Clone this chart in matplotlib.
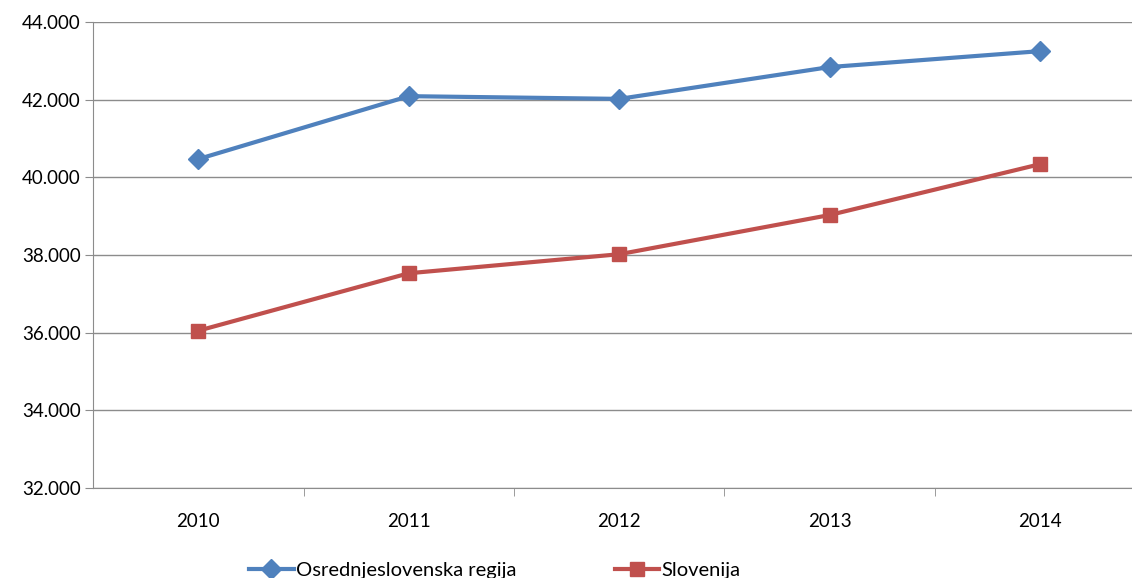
import matplotlib.pyplot as plt
import numpy as np

plt.rcParams['font.family'] = ['Lato', 'DejaVu Sans']

years = ['2010', '2011', '2012', '2013', '2014']
osrednjeslovenska = [40470, 42090, 42020, 42840, 43250]
slovenija = [36050, 37530, 38020, 39030, 40340]
yticks = [32000, 34000, 36000, 38000, 40000, 42000, 44000]
ytick_labels = ['32.000', '34.000', '36.000', '38.000', '40.000', '42.000', '44.000']

W, H = 1132, 578
fig = plt.figure(figsize=(W / 100, H / 100), dpi=100)
# axes runs a bit past the right edge, like the cropped original
ax = fig.add_axes([93 / W, 1 - 488 / H, (1145.5 - 93) / W, (488 - 22) / H])

x = np.arange(len(years))
ax.plot(x, osrednjeslovenska, color='#4F81BD', lw=3, marker='D', ms=10,
        label='Osrednjeslovenska regija', clip_on=False)
ax.plot(x, slovenija, color='#C0504D', lw=3, marker='s', ms=10,
        label='Slovenija', clip_on=False)

ax.set_xlim(-0.5, len(years) - 0.5)
ax.set_ylim(32000, 44000)
ax.set_yticks(yticks)
ax.set_yticklabels(ytick_labels)
ax.set_xticks(x)
ax.set_xticklabels(years)
ax.set_xticks(np.arange(0.5, len(years) - 0.5), minor=True)

ax.grid(axis='y', color='#8C8C8C', lw=1)
ax.set_axisbelow(True)
for s in ['top', 'right']:
    ax.spines[s].set_visible(False)
for s in ['left', 'bottom']:
    ax.spines[s].set_color('#8C8C8C')
ax.tick_params(axis='y', length=6, color='#8C8C8C', labelsize=13.5, pad=3)
ax.tick_params(axis='x', which='major', length=0, labelsize=13.5, pad=18)
ax.tick_params(axis='x', which='minor', length=6, color='#8C8C8C')

fig.legend(loc='center', bbox_to_anchor=(0.437, 1 - 570 / H), ncol=2, frameon=False,
           fontsize=14.5, handlelength=2.2, columnspacing=4.9, handletextpad=0.1)

fig.savefig('out.png', dpi=100)
